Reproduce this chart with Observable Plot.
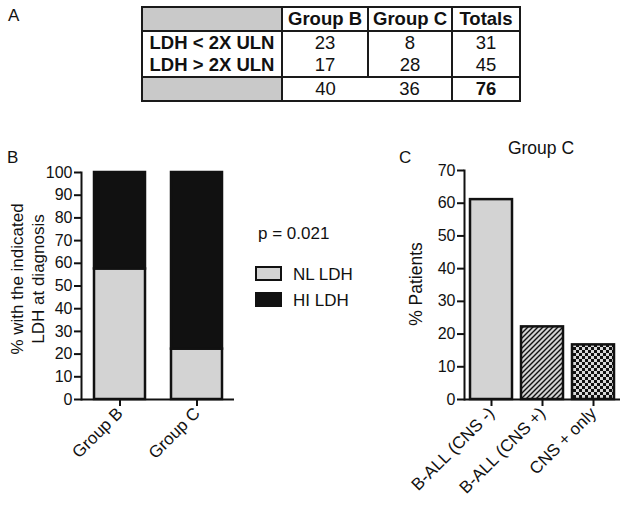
<!DOCTYPE html>
<html><head><meta charset="utf-8">
<script src="https://cdn.jsdelivr.net/npm/d3@7"></script>
<script src="https://cdn.jsdelivr.net/npm/@observablehq/plot@0.6"></script>
<style>
body{margin:0;background:#fff;}
#root{position:relative;width:624px;height:506px;overflow:hidden;font-family:"Liberation Sans",Arial,sans-serif;color:#111;background:#fff;}
.abs{position:absolute;line-height:1;white-space:nowrap;}
#tbl{position:absolute;left:141px;top:6px;border-collapse:collapse;table-layout:fixed;}
#tbl td{padding:0;text-align:center;font-size:18.5px;line-height:1;height:22px;}
.sw{position:absolute;box-sizing:border-box;border:2px solid #111;width:27px;height:15px;}
#root svg g[aria-label="y-axis tick label"]{font-size:16px !important;font-family:"Liberation Sans",Arial,sans-serif;}
#root svg g[aria-label="y-axis tick label"] text{font-size:16px !important;}
#root svg g[aria-label="x-axis tick label"]{font-size:17px !important;font-family:"Liberation Sans",Arial,sans-serif;}
#root svg g[aria-label="x-axis tick label"] text{font-size:17px !important;}
</style></head>
<body><div id="root"></div>
<script>
// ---------- data ----------
const tableCols = ["Group B", "Group C", "Totals"];
const tableRows = ["LDH < 2X ULN", "LDH > 2X ULN"];
const groupBCounts = [23, 17];
const groupCCounts = [8, 28];
const totalsCounts = [31, 45];
const columnTotals = [40, 36, 76];

const groupsB = ["Group B", "Group C"];
const seriesB = ["NL LDH", "HI LDH"];
const nlLdhPct = [57.5, 22.2];
const hiLdhPct = [42.5, 77.8];
const pValueText = "p = 0.021";
const yTitleB = "% with the indicated\nLDH at diagnosis";

const categoriesC = ["B-ALL (CNS -)", "B-ALL (CNS +)", "CNS + only"];
const patientsPct = [61.1, 22.2, 16.7];
const titleC = "Group C";
const yTitleC = "% Patients";

// ---------- styling ----------
const FONT = '"Liberation Sans", Arial, sans-serif';
const INK = "#111";
const GREY = "#d3d3d3";
const colorsB = [GREY, INK];
const root = document.getElementById("root");

function addText(txt, left, top, size, extra = {}) {
  const d = document.createElement("div");
  d.className = "abs";
  d.textContent = txt;
  Object.assign(d.style, {left: left + "px", top: top + "px", fontSize: size + "px"}, extra);
  root.appendChild(d);
  return d;
}

// ---------- Panel A: table ----------
addText("A", 8, 7, 17);
const tbl = document.createElement("table");
tbl.id = "tbl";
const colW = [140, 86, 84, 68];
const cg = document.createElement("colgroup");
colW.forEach(w => { const c = document.createElement("col"); c.style.width = w + "px"; cg.appendChild(c); });
tbl.appendChild(cg);
const rowsA = [
  ["", ...tableCols],
  ...tableRows.map((r, i) => [r, groupBCounts[i], groupCCounts[i], totalsCounts[i]]),
  ["", ...columnTotals]
];
const B = "2px solid #1a1a1a";
rowsA.forEach((row, r) => {
  const tr = document.createElement("tr");
  row.forEach((v, c) => {
    const td = document.createElement("td");
    td.textContent = v;
    td.style.borderTop = r === 2 ? "none" : B;
    td.style.borderBottom = r === 1 ? "none" : B;
    td.style.borderLeft = (r === 3 && c === 2) ? "none" : B;
    td.style.borderRight = (r === 3 && c === 1) ? "none" : B;
    if ((r === 0 || r === 3) && c === 0) td.style.background = "#c9c9c9";
    if (r === 0 || (c === 0) || (r === 3 && c === 3)) td.style.fontWeight = "bold";
    tr.appendChild(td);
  });
  tbl.appendChild(tr);
});
root.appendChild(tbl);

// ---------- Panel B ----------
addText("B", 7, 149, 17);
const dataB = groupsB.flatMap((g, i) => [
  {group: g, series: seriesB[0], pct: nlLdhPct[i]},
  {group: g, series: seriesB[1], pct: hiLdhPct[i]}
]);
const plotB = Plot.plot({
  width: 330, height: 366,
  marginLeft: 81, marginRight: 96, marginTop: 32, marginBottom: 107,
  style: {fontFamily: FONT, fontSize: "16px", color: INK, background: "transparent", overflow: "visible"},
  x: {domain: groupsB, paddingInner: 0.338, paddingOuter: 0.162, label: null},
  y: {domain: [0, 100], label: null},
  color: {domain: seriesB, range: colorsB},
  marks: [
    Plot.barY(dataB, {x: "group", y: "pct", fill: "series", stroke: INK, strokeWidth: 2.5}),
    Plot.axisY({ticks: d3.range(0, 101, 10), tickSize: 7, tickPadding: 2, strokeWidth: 2, fontSize: 16, label: null}),
    Plot.axisX({tickRotate: -45, tickSize: 7, tickPadding: 4, strokeWidth: 2, fontSize: 17, label: null}),
    Plot.frame({anchor: "left", strokeWidth: 2}),
    Plot.ruleY([0], {strokeWidth: 2}),
    Plot.text([yTitleB], {frameAnchor: "left", textAnchor: "middle", rotate: -90, dx: -55, dy: -7, fontSize: 17, lineHeight: 1.28, lineAnchor: "middle"})
  ]
});
plotB.style.position = "absolute";
plotB.style.left = "0px";
plotB.style.top = "140px";
root.appendChild(plotB);

// legend for panel B
addText(pValueText, 258, 225, 17);
const swTops = [266, 292];
seriesB.forEach((s, i) => {
  const sw = document.createElement("div");
  sw.className = "sw";
  sw.style.left = "255px";
  sw.style.top = swTops[i] + "px";
  sw.style.background = colorsB[i];
  root.appendChild(sw);
  addText(s, 293, swTops[i] - 0.5, 17);
});

// ---------- Panel C ----------
addText("C", 399, 149, 17);
addText(titleC, 541, 140, 17.5, {transform: "translateX(-50%)"});
const dataC = categoriesC.map((c, i) => ({cat: c, pct: patientsPct[i]}));
const plotC = Plot.plot({
  width: 294, height: 366,
  marginLeft: 134, marginRight: 4, marginTop: 30, marginBottom: 107,
  style: {fontFamily: FONT, fontSize: "16px", color: INK, background: "transparent", overflow: "visible"},
  x: {domain: categoriesC, paddingInner: 0.175, paddingOuter: 0.1, label: null},
  y: {domain: [0, 70], label: null},
  color: {domain: categoriesC, range: [GREY, "url(#diagC)", "url(#checkC)"]},
  marks: [
    Plot.barY(dataC, {x: "cat", y: "pct", fill: "cat", stroke: INK, strokeWidth: 2.5}),
    Plot.axisY({ticks: d3.range(0, 71, 10), tickSize: 7, tickPadding: 2, strokeWidth: 2, fontSize: 16, label: null}),
    Plot.axisX({tickRotate: -45, tickSize: 7, tickPadding: 4, strokeWidth: 2, fontSize: 17, label: null}),
    Plot.frame({anchor: "left", strokeWidth: 2}),
    Plot.ruleY([0], {strokeWidth: 2}),
    Plot.text([yTitleC], {frameAnchor: "left", textAnchor: "middle", rotate: -90, dx: -48, dy: -1, fontSize: 17.5, lineAnchor: "middle"})
  ]
});
const defs = d3.select(plotC).insert("defs", ":first-child");
const pd = defs.append("pattern").attr("id", "diagC").attr("patternUnits", "userSpaceOnUse").attr("width", 5).attr("height", 5);
pd.append("rect").attr("width", 5).attr("height", 5).attr("fill", GREY);
pd.append("path").attr("d", "M-1,1 l2,-2 M0,5 l5,-5 M4,6 l2,-2").attr("stroke", INK).attr("stroke-width", 1.4);
const pc = defs.append("pattern").attr("id", "checkC").attr("patternUnits", "userSpaceOnUse").attr("width", 6).attr("height", 6);
pc.append("rect").attr("width", 6).attr("height", 6).attr("fill", "#d8d8d8");
pc.append("rect").attr("width", 3).attr("height", 3).attr("fill", INK);
pc.append("rect").attr("x", 3).attr("y", 3).attr("width", 3).attr("height", 3).attr("fill", INK);
plotC.style.position = "absolute";
plotC.style.left = "330px";
plotC.style.top = "140px";
root.appendChild(plotC);
</script>
</body></html>
